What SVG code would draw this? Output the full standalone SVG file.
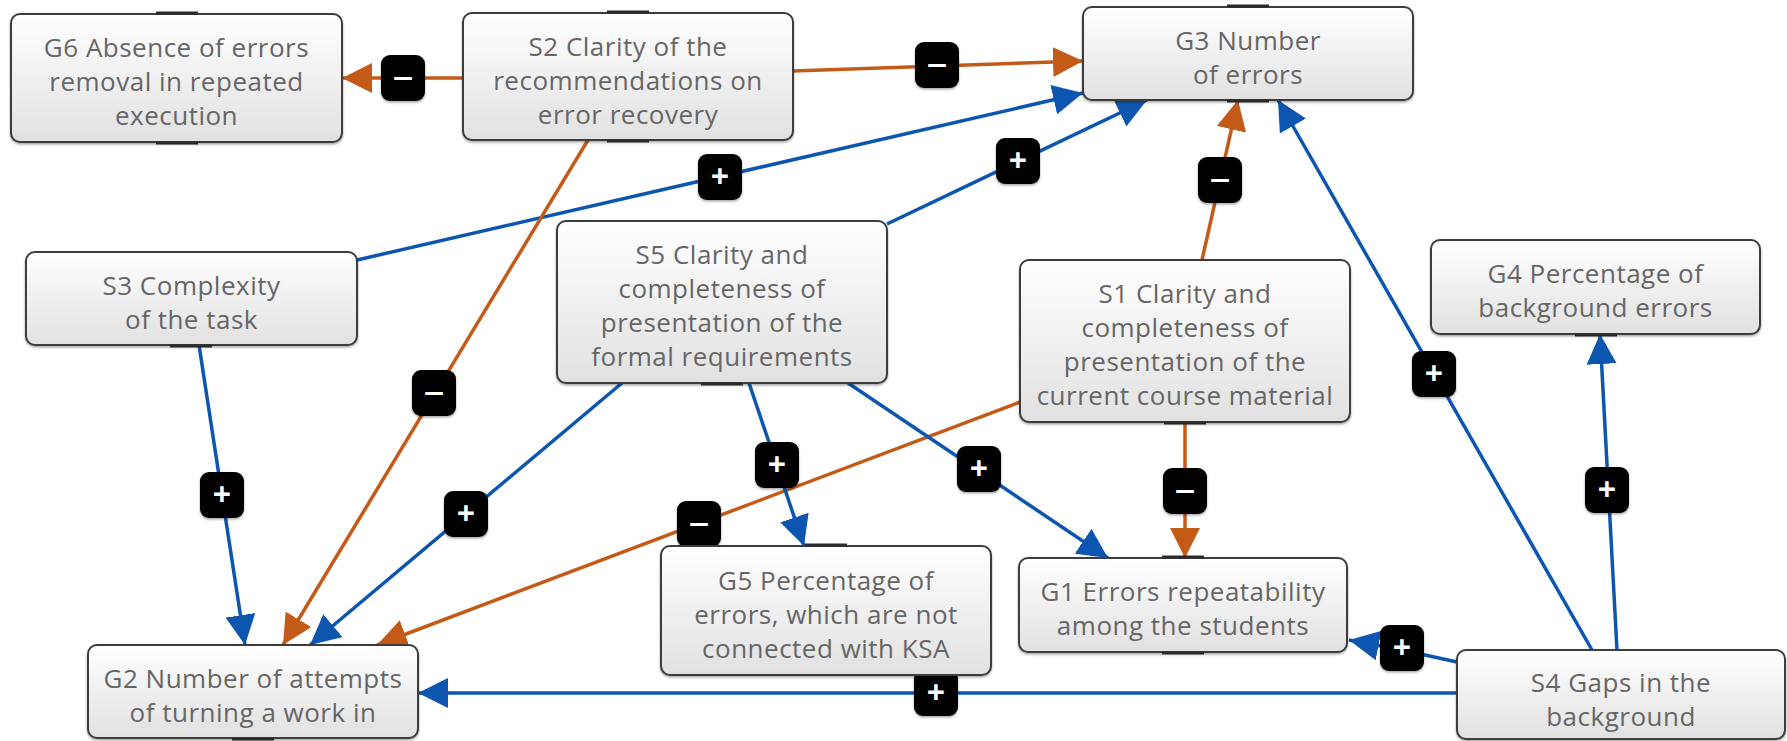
<svg xmlns="http://www.w3.org/2000/svg" width="1787" height="741" viewBox="0 0 1787 741">
<defs>
<linearGradient id="nodeFill" x1="0" y1="0" x2="0" y2="1">
<stop offset="0" stop-color="#ffffff"/>
<stop offset="1" stop-color="#e1e1e1"/>
</linearGradient>
<filter id="shadow" x="-5%" y="-5%" width="110%" height="120%">
<feDropShadow dx="0" dy="1.5" stdDeviation="1.2" flood-color="#000" flood-opacity="0.35"/>
</filter>
<marker id="arrBlue" markerUnits="userSpaceOnUse" markerWidth="30" markerHeight="30" refX="30" refY="15" orient="auto" viewBox="0 0 30 30">
<path d="M0,0 L30,15 L0,30 z" fill="#0d56b0"/>
</marker>
<marker id="arrOrange" markerUnits="userSpaceOnUse" markerWidth="30" markerHeight="30" refX="30" refY="15" orient="auto" viewBox="0 0 30 30">
<path d="M0,0 L30,15 L0,30 z" fill="#c45a18"/>
</marker>
</defs>
<style>
.node rect{fill:url(#nodeFill);stroke:#3c3c3c;stroke-width:2;filter:url(#shadow)}
.node text{font-family:"Open Sans","Liberation Sans",sans-serif;font-size:26px;letter-spacing:0.5px;fill:#666666;text-anchor:middle;dominant-baseline:central}
.tab{stroke:#2a2a2a;stroke-width:3;fill:none}
.pos{stroke:#0d56b0;stroke-width:3.5;fill:none;marker-end:url(#arrBlue)}
.neg{stroke:#c45a18;stroke-width:3.5;fill:none;marker-end:url(#arrOrange)}
.lbl rect{fill:#000;filter:url(#shadow)}
.lbl text{font-family:"Open Sans","Liberation Sans",sans-serif;fill:#fff;text-anchor:middle;dominant-baseline:central}
.plus{font-size:32px;font-weight:bold}
.minus{font-size:42px}
</style>
<g id="connectors">
<path class="neg" d="M463,78 L342,78"/>
<path class="neg" d="M793,71 L1083,61"/>
<path class="pos" d="M357,260 L1083,93"/>
<path class="pos" d="M887,224 L1147,100"/>
<path class="neg" d="M1202,260 L1238,100"/>
<path class="pos" d="M1592,650 L1278,100"/>
<path class="pos" d="M1617,650 L1600,334"/>
<path class="pos" d="M1457,662 L1402,650 L1349,640"/>
<path class="pos" d="M1457,693 L418,693"/>
<path class="pos" d="M199,345 L245,645"/>
<path class="neg" d="M588,140 L283,645"/>
<path class="pos" d="M622,383 L310,645"/>
<path class="neg" d="M1020,402 L377,645"/>
<path class="pos" d="M749,383 L804,546"/>
<path class="pos" d="M848,383 L1108,558"/>
<path class="neg" d="M1185,422 L1185,558"/>
<g class="lbl">
<rect x="381" y="55" width="44" height="46" rx="9"/><text class="minus" x="403" y="73">–</text>
<rect x="915" y="42" width="44" height="46" rx="9"/><text class="minus" x="937" y="60">–</text>
<rect x="698" y="154" width="44" height="46" rx="9"/><text class="plus" x="720" y="175">+</text>
<rect x="996" y="138" width="44" height="46" rx="9"/><text class="plus" x="1018" y="159">+</text>
<rect x="1198" y="157" width="44" height="46" rx="9"/><text class="minus" x="1220" y="175">–</text>
<rect x="1412" y="351" width="44" height="46" rx="9"/><text class="plus" x="1434" y="372">+</text>
<rect x="1585" y="467" width="44" height="46" rx="9"/><text class="plus" x="1607" y="488">+</text>
<rect x="1380" y="625" width="44" height="46" rx="9"/><text class="plus" x="1402" y="646">+</text>
<rect x="914" y="670" width="44" height="46" rx="9"/><text class="plus" x="936" y="691">+</text>
<rect x="200" y="472" width="44" height="46" rx="9"/><text class="plus" x="222" y="493">+</text>
<rect x="412" y="370" width="44" height="46" rx="9"/><text class="minus" x="434" y="388">–</text>
<rect x="444" y="491" width="44" height="46" rx="9"/><text class="plus" x="466" y="512">+</text>
<rect x="677" y="501" width="44" height="46" rx="9"/><text class="minus" x="699" y="519">–</text>
<rect x="755" y="442" width="44" height="46" rx="9"/><text class="plus" x="777" y="463">+</text>
<rect x="957" y="446" width="44" height="46" rx="9"/><text class="plus" x="979" y="467">+</text>
<rect x="1163" y="468" width="44" height="46" rx="9"/><text class="minus" x="1185" y="486">–</text>
</g>
</g>
<g id="G6" class="node">
<rect x="11" y="14" width="331" height="128" rx="9"/>
<path class="tab" d="M156,13 L198,13 M156,143 L198,143"/>
<text x="176.5" y="47">G6 Absence of errors</text>
<text x="176.5" y="81">removal in repeated</text>
<text x="176.5" y="115">execution</text>
</g>
<g id="S2" class="node">
<rect x="463" y="13" width="330" height="127" rx="9"/>
<path class="tab" d="M607,12 L649,12 M607,141 L649,141"/>
<text x="628" y="45.5">S2 Clarity of the</text>
<text x="628" y="79.5">recommendations on</text>
<text x="628" y="113.5">error recovery</text>
</g>
<g id="G3" class="node">
<rect x="1083" y="7" width="330" height="93" rx="9"/>
<path class="tab" d="M1227,6 L1269,6 M1227,101 L1269,101"/>
<text x="1248" y="39.5">G3 Number</text>
<text x="1248" y="73.5">of errors</text>
</g>
<g id="S3" class="node">
<rect x="26" y="252" width="331" height="93" rx="9"/>
<path class="tab" d="M170,346 L212,346"/>
<text x="191.5" y="284.5">S3 Complexity</text>
<text x="191.5" y="318.5">of the task</text>
</g>
<g id="S5" class="node">
<rect x="557" y="221" width="330" height="162" rx="9"/>
<path class="tab" d="M701,384 L743,384"/>
<text x="722" y="254">S5 Clarity and</text>
<text x="722" y="288">completeness of</text>
<text x="722" y="322">presentation of the</text>
<text x="722" y="356">formal requirements</text>
</g>
<g id="S1" class="node">
<rect x="1020" y="260" width="330" height="162" rx="9"/>
<path class="tab" d="M1164,423 L1206,423"/>
<text x="1185" y="293">S1 Clarity and</text>
<text x="1185" y="327">completeness of</text>
<text x="1185" y="361">presentation of the</text>
<text x="1185" y="395">current course material</text>
</g>
<g id="G4" class="node">
<rect x="1431" y="240" width="329" height="94" rx="9"/>
<path class="tab" d="M1575,335 L1617,335"/>
<text x="1595.5" y="273">G4 Percentage of</text>
<text x="1595.5" y="307">background errors</text>
</g>
<g id="G5" class="node">
<rect x="661" y="546" width="330" height="129" rx="9"/>
<path class="tab" d="M805,545 L847,545"/>
<text x="826" y="579.5">G5 Percentage of</text>
<text x="826" y="613.5">errors, which are not</text>
<text x="826" y="647.5">connected with KSA</text>
</g>
<g id="G1" class="node">
<rect x="1019" y="558" width="328" height="94" rx="9"/>
<path class="tab" d="M1162,557 L1204,557 M1162,653 L1204,653"/>
<text x="1183" y="591">G1 Errors repeatability</text>
<text x="1183" y="625">among the students</text>
</g>
<g id="G2" class="node">
<rect x="88" y="645" width="330" height="93" rx="9"/>
<path class="tab" d="M232,739 L274,739"/>
<text x="253" y="677.5">G2 Number of attempts</text>
<text x="253" y="711.5">of turning a work in</text>
</g>
<g id="S4" class="node">
<rect x="1457" y="650" width="328" height="89" rx="9"/>
<text x="1621" y="681.5">S4 Gaps in the</text>
<text x="1621" y="715.5">background</text>
</g>
</svg>
